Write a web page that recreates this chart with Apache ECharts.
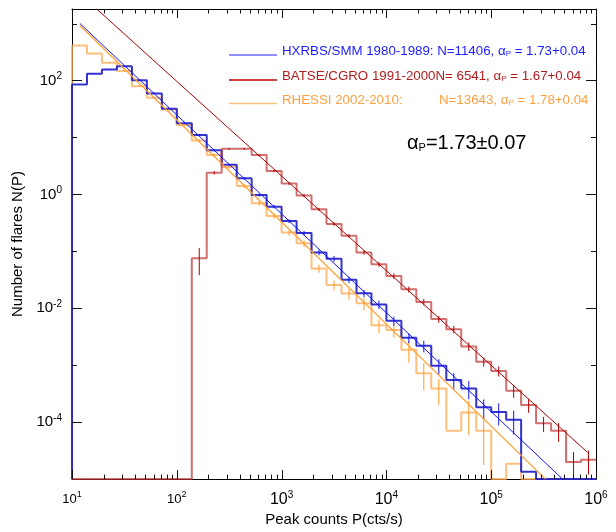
<!DOCTYPE html>
<html>
<head>
<meta charset="utf-8">
<script src="https://cdn.jsdelivr.net/npm/echarts@6/dist/echarts.min.js"></script>
<style>
html,body{margin:0;padding:0;background:#fff;}
#chart{width:616px;height:532px;}
</style>
</head>
<body>
<div id="chart"></div>
<script>
// ---------------- data ----------------
// Bin edges of peak counts P (cts/s), 7 bins per decade
const binEdges = [10, 13.9, 19.3, 26.8, 37.3, 51.8, 72.0,
  100, 139, 193, 268, 373, 518, 720,
  1000, 1390, 1930, 2680, 3730, 5180, 7200,
  1e4, 1.39e4, 1.93e4, 2.68e4, 3.73e4, 5.18e4, 7.2e4,
  1e5, 1.39e5, 1.93e5, 2.68e5, 3.73e5, 5.18e5, 7.2e5, 1e6];

// N(P) per bin
const hxrbsN = [85.1, 131, 156, 178, 101, 59.2, 31.8,
  17.8, 11.0, 5.98, 3.31, 1.91, 0.97, 0.608,
  0.340, 0.209, 0.0955, 0.0741, 0.0316, 0.0183, 0.0117,
  0.00603, 0.00305, 0.00219, 0.000977, 0.000550, 0.000389, 0.000182,
  0.000151, 0.000110, 0.0000135, 0, 0, 0, 0];
const batseN = [0, 0, 0, 0, 0, 0, 0,
  0, 0.0759, 2.40, 6.31, 6.31, 4.90, 2.57,
  1.55, 0.955, 0.546, 0.302, 0.188, 0.0955, 0.0592,
  0.0369, 0.0215, 0.0129, 0.00646, 0.00427, 0.00214, 0.00115,
  0.000794, 0.000355, 0.000200, 0.0000955, 0.0000708, 0.0000200, 0.0000219];
const rhessiN = [411, 298, 204, 146, 79.4, 49.7, 30.9,
  16.6, 8.81, 4.90, 3.02, 1.40, 0.695, 0.417,
  0.214, 0.138, 0.0501, 0.0257, 0.0181, 0.0123, 0.00501,
  0.00417, 0.00186, 0.000724, 0.000389, 0.0000708, 0.000148, 0.0000708,
  0, 0.0000186, 0, 0, 0, 0, 0];

// relative 1-sigma error bars per bin
const hxrbsErr = [0.02, 0.02, 0.02, 0.02, 0.025, 0.03, 0.03,
  0.035, 0.04, 0.045, 0.05, 0.055, 0.06, 0.07,
  0.08, 0.09, 0.11, 0.12, 0.13, 0.14, 0.17,
  0.18, 0.2, 0.23, 0.3, 0.33, 0.35, 0.38,
  0.42, 0.45, 0, 0, 0, 0, 0];
const batseErr = [0, 0, 0, 0, 0, 0, 0,
  0, 0.5, 0.07, 0.04, 0.04, 0.045, 0.05,
  0.055, 0.06, 0.065, 0.07, 0.08, 0.09, 0.1,
  0.11, 0.12, 0.13, 0.14, 0.15, 0.17, 0.18,
  0.2, 0.25, 0.27, 0.3, 0.36, 0.5, 0.45];
const rhessiErr = [0.015, 0.015, 0.02, 0.02, 0.025, 0.03, 0.035,
  0.04, 0.05, 0.06, 0.07, 0.08, 0.09, 0.1,
  0.12, 0.13, 0.16, 0.2, 0.22, 0.25, 0.27,
  0.27, 0.4, 0.5, 0.48, 0, 0.6, 0.75,
  0, 0, 0, 0, 0, 0, 0];

// power-law fit lines: [P, N(P)] end points
const fitHxrbs  = [[11.9, 1000], [4.8e5, 1e-5]];
const fitBatse  = [[17.2, 1800], [8.3e5, 2.95e-5]];
const fitRhessi = [[11.9, 923],  [3.3e5, 1e-5]];

// axis ticks (decade exponents)
const xTickExps = [1, 2, 3, 4, 5, 6];
const yTickExps = [-4, -2, 0, 2];
const yMinorExps = [-3, -1, 1, 3];

const legendRows = [
  {left: 'HXRBS/SMM 1980-1989: N=11406, α', right: ' = 1.73+0.04', color: '#1c1cff', line: '#6a6aff'},
  {left: 'BATSE/CGRO 1991-2000N= 6541, α', right: ' = 1.67+0.04', color: '#b41c1c', line: '#c00000'},
  {left: 'RHESSI 2002-2010:', mid: 'N=13643, α', right: ' = 1.78+0.04', color: '#ffa040', line: '#ffc080'}
];

// ---------------- styling ----------------
const FONT = '"Liberation Sans", Arial, Helvetica, sans-serif';
const Y_MIN = -5, Y_MAX = 3.255, X_MIN = 1, X_MAX = 6;
const C_BLUE = '#1414ff', C_BLUE_H = 'rgba(30,30,200,0.9)';
const C_RED = '#b00000', C_RED_H = 'rgba(190,50,50,0.7)';
const C_OR = '#ffa030', C_OR_H = 'rgba(255,170,80,0.75)', C_OR_E = '#ff9a20';

const lg = v => (v > 0 ? Math.max(Math.log10(v), Y_MIN) : Y_MIN);

function stepData(vals) {
  const pts = [[Math.log10(binEdges[0]), Y_MIN]];
  vals.forEach((v, i) => pts.push([Math.log10(binEdges[i]), lg(v)]));
  pts.push([Math.log10(binEdges[vals.length]), lg(vals[vals.length - 1])]);
  return pts;
}
function errData(vals, rel) {
  const out = [];
  vals.forEach((v, i) => {
    if (v > 0 && rel[i] > 0) {
      const c = (Math.log10(binEdges[i]) + Math.log10(binEdges[i + 1])) / 2;
      out.push([c, lg(v * (1 - rel[i])), lg(v * (1 + rel[i]))]);
    }
  });
  return out;
}
function fitData(f) { return f.map(p => [Math.log10(p[0]), Math.log10(p[1])]); }

function histSeries(name, vals, color, width) {
  return {name, type: 'line', step: 'end', data: stepData(vals), symbol: 'none',
    clip: true, silent: true, lineStyle: {color, width}, z: 2};
}
function errSeries(name, vals, rel, color) {
  return {name, type: 'custom', data: errData(vals, rel),
    clip: true, silent: true, z: 3,
    renderItem(params, api) {
      const a = api.coord([api.value(0), api.value(1)]);
      const b = api.coord([api.value(0), api.value(2)]);
      return {type: 'line', shape: {x1: a[0], y1: a[1], x2: b[0], y2: b[1]},
        style: {stroke: color, lineWidth: 1}};
    }};
}
function fitSeries(name, f, color, w) {
  return {name, type: 'line', data: fitData(f), symbol: 'none',
    clip: true, silent: true, lineStyle: {color, width: w}, z: 4};
}

// log minor tick positions (2..9 x 10^n)
const minorX = [];
for (let e = X_MIN; e < X_MAX; e++) for (let k = 2; k <= 9; k++) minorX.push(e + Math.log10(k));

// inward tick marks on each side of the frame, positioned through the axes' scales
function tickSeries(side, items) {
  return {type: 'custom', data: items, clip: false, silent: true, z: 6,
    renderItem(params, api) {
      const v = api.value(0), L = api.value(1);
      let s;
      if (side === 'b' || side === 't') {
        const p = api.coord([v, side === 'b' ? Y_MIN : Y_MAX]);
        const x = Math.round(p[0]) + 0.5;
        const d = side === 'b' ? -L : L;
        s = {x1: x, y1: p[1], x2: x, y2: p[1] + d};
      } else {
        const p = api.coord([side === 'l' ? X_MIN : X_MAX, v]);
        const y = Math.round(p[1]) + 0.5;
        const d = side === 'l' ? L : -L;
        s = {x1: p[0], y1: y, x2: p[0] + d, y2: y};
      }
      return {type: 'line', shape: s, style: {stroke: '#111', lineWidth: 1}};
    }};
}
const xTickItems = xTickExps.map(v => [v, 9]).concat(minorX.map(v => [v, 4.5]));
const yTickItems = yTickExps.map(v => [v, 10]).concat(yMinorExps.map(v => [v, 5]));

function xAxisCfg(pos, labels) {
  return {type: 'value', position: pos, min: X_MIN, max: X_MAX, interval: 1,
    axisLine: {show: true, onZero: false, lineStyle: {color: '#000', width: 1}},
    axisTick: {show: false},
    axisLabel: labels ? {
      show: true, margin: 11,
      formatter: v => { const e = Math.round(v); return e <= 2 ? `{s|10}{ss|${e}}` : `{b|10}{bs|${e}}`; },
      rich: {
        s: {fontFamily: FONT, fontSize: 13, color: '#000', lineHeight: 18},
        ss: {fontFamily: FONT, fontSize: 9, color: '#000', lineHeight: 11, verticalAlign: 'top'},
        b: {fontFamily: FONT, fontSize: 16, color: '#000', lineHeight: 18},
        bs: {fontFamily: FONT, fontSize: 10, color: '#000', lineHeight: 11, verticalAlign: 'top'}
      }
    } : {show: false},
    splitLine: {show: false},
    name: labels ? 'Peak counts P(cts/s)' : '',
    nameLocation: 'middle', nameGap: 31,
    nameTextStyle: {fontFamily: FONT, fontSize: 15, color: '#000'}
  };
}
function yAxisCfg(pos, labels) {
  return {type: 'value', position: pos, min: Y_MIN, max: Y_MAX,
    axisLine: {show: true, onZero: false, lineStyle: {color: '#000', width: 1}},
    axisTick: {show: false},
    axisLabel: labels ? {
      show: true, customValues: yTickExps, margin: 10,
      formatter: v => `{b|10}{bs|${Math.round(v)}}`,
      rich: {
        b: {fontFamily: FONT, fontSize: 15, color: '#000', lineHeight: 18},
        bs: {fontFamily: FONT, fontSize: 10, color: '#000', lineHeight: 11, verticalAlign: 'top'}
      }
    } : {show: false},
    splitLine: {show: false},
    name: labels ? 'Number of flares N(P)' : '',
    nameLocation: 'middle', nameGap: 44, nameRotate: 90,
    nameTextStyle: {fontFamily: FONT, fontSize: 15, color: '#000'}
  };
}

// legend-like annotation graphics
const graphics = [];
const rowY = [55, 80, 103.5];
legendRows.forEach((r, i) => {
  graphics.push({type: 'line', silent: true, shape: {x1: 229, y1: rowY[i], x2: 277, y2: rowY[i]},
    style: {stroke: r.line, lineWidth: 1.5}});
  const mkStyle = text => ({text, fill: r.color, fontFamily: FONT, fontSize: 13.3,
    verticalAlign: 'middle', align: 'left',
    rich: {
      t: {fontFamily: FONT, fontSize: 13.3, fill: r.color},
      p: {fontFamily: FONT, fontSize: 8, fill: r.color, verticalAlign: 'bottom', lineHeight: 10}
    }});
  if (r.mid) {
    graphics.push({type: 'text', silent: true, x: 282, y: rowY[i] - 3.5, style: mkStyle(`{t|${r.left}}`)});
    graphics.push({type: 'text', silent: true, x: 439, y: rowY[i] - 3.5, style: mkStyle(`{t|${r.mid}}{p|P}{t|${r.right}}`)});
  } else {
    graphics.push({type: 'text', silent: true, x: 282, y: rowY[i] - 3.5, style: mkStyle(`{t|${r.left}}{p|P}{t|${r.right}}`)});
  }
});
graphics.push({type: 'text', silent: true, x: 407, y: 143,
  style: {text: '{t|α}{p|P}{t|=1.73±0.07}', verticalAlign: 'middle', align: 'left', fill: '#000',
    fontFamily: FONT, fontSize: 20,
    rich: {
      t: {fontFamily: FONT, fontSize: 20, fill: '#000'},
      p: {fontFamily: FONT, fontSize: 11, fill: '#000', verticalAlign: 'bottom', lineHeight: 13}
    }}});

const chart = echarts.init(document.getElementById('chart'), null, {renderer: 'canvas'});
chart.setOption({
  animation: false,
  backgroundColor: '#fff',
  grid: {left: 72, right: 20, top: 9, bottom: 52, containLabel: false},
  xAxis: [xAxisCfg('bottom', true), xAxisCfg('top', false)],
  yAxis: [yAxisCfg('left', true), yAxisCfg('right', false)],
  series: [
    histSeries('RHESSI', rhessiN, C_OR_H, 2),
    histSeries('HXRBS', hxrbsN, C_BLUE_H, 2),
    histSeries('BATSE', batseN, C_RED_H, 2),
    errSeries('RHESSI err', rhessiN, rhessiErr, C_OR_E),
    errSeries('HXRBS err', hxrbsN, hxrbsErr, C_BLUE),
    errSeries('BATSE err', batseN, batseErr, C_RED),
    fitSeries('HXRBS fit', fitHxrbs, C_BLUE, 1),
    fitSeries('BATSE fit', fitBatse, C_RED, 1),
    fitSeries('RHESSI fit', fitRhessi, C_OR, 1.3),
    tickSeries('b', xTickItems),
    tickSeries('t', xTickItems),
    tickSeries('l', yTickItems),
    tickSeries('r', yTickItems)
  ],
  graphic: graphics
});
</script>
</body>
</html>
